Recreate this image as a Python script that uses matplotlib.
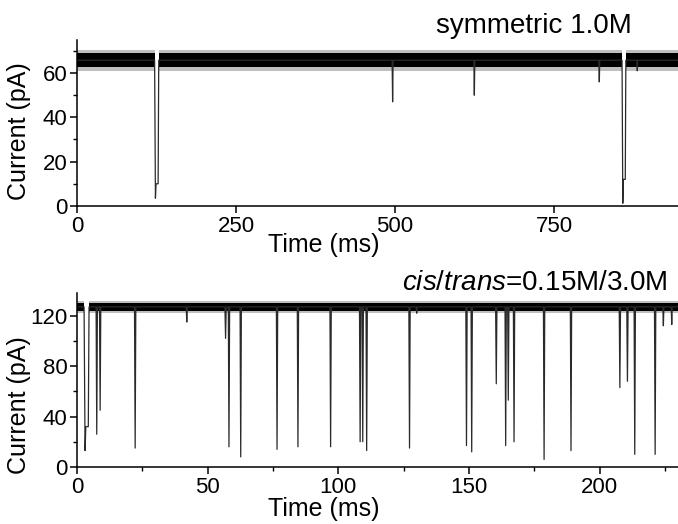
import matplotlib
matplotlib.use('Agg')
import matplotlib.pyplot as plt
import numpy as np

plt.rcParams['font.family'] = ['Liberation Sans', 'DejaVu Sans']
plt.rcParams['mathtext.fontset'] = 'custom'
plt.rcParams['mathtext.rm'] = 'Liberation Sans'
plt.rcParams['mathtext.it'] = 'Liberation Sans:italic'

# ---- top trace: symmetric 1.0M ----
top_base = 65.8
top_core = (62.6, 69.0)      # dense part of the noise band
top_fuzz = (61.0, 70.6)      # outer whiskers of the noise
# events: start (ms), end (ms), lowest current, plateau current
top_start = [122.0, 495.5, 624.0, 820.5, 857.0, 880.5]
top_end = [128.5, 497.0, 625.5, 822.0, 863.0, 881.5]
top_min = [3.5, 47.0, 50.0, 56.0, 1.2, 61.0]
top_plat = [10.0, 47.0, 50.0, 56.0, 12.0, 61.0]

# ---- bottom trace: cis/trans = 0.15M/3.0M ----
bot_base = 127.0
bot_core = (123.8, 130.2)
bot_fuzz = (121.8, 131.6)
bot_start = [2.7, 7.3, 8.6, 22.0, 41.8, 56.6, 57.9, 62.4, 76.3, 84.3,
             96.8, 108.1, 109.1, 110.6, 127.0, 129.8, 148.8, 150.8, 160.2, 163.8,
             164.8, 167.0, 178.5, 188.8, 207.5, 210.4, 213.2, 221.0, 224.2, 227.4]
bot_end = [4.6, 7.8, 9.1, 22.5, 42.2, 57.1, 58.4, 62.9, 76.8, 84.8,
           97.3, 108.6, 109.6, 111.1, 127.5, 130.2, 149.3, 151.3, 160.7, 164.3,
           165.3, 167.5, 179.0, 189.3, 208.0, 210.9, 213.7, 221.5, 224.6, 227.8]
bot_min = [13, 26, 45, 15, 115, 102, 16, 8, 14, 16,
           16, 20, 20, 13, 15, 122, 17, 12, 66, 17,
           53, 20, 6, 13, 63, 68, 10, 10, 112, 113]
bot_plat = [32, 26, 45, 15, 115, 102, 16, 8, 14, 16,
            16, 20, 20, 13, 15, 122, 17, 12, 66, 17,
            53, 20, 6, 13, 63, 68, 10, 10, 112, 113]


def build_trace(base, starts, ends, mins, plats, t_end):
    xs, ys = [0], [base]
    for s, e, m, p in zip(starts, ends, mins, plats):
        w = e - s
        if m == p:
            xs += [s, s + w / 2, e]
            ys += [base, m, base]
        else:
            xs += [s, s + w * 0.2, s + w * 0.35, e - w * 0.15, e]
            ys += [base, m, p, p, base]
    xs.append(t_end)
    ys.append(base)
    return xs, ys


def draw_panel(ax, base, core, fuzz, starts, ends, mins, plats, t_end):
    # noise band, broken only where a long blockade happens
    edges = [0]
    for s, e in zip(starts, ends):
        if e - s > 0.005 * t_end:
            edges += [s, e]
    edges.append(t_end)
    for a, b in zip(edges[0::2], edges[1::2]):
        ax.fill_between([a, b], fuzz[0], fuzz[1], color='black', alpha=0.25, lw=0)
        ax.fill_between([a, b], core[0], core[1], color='black', lw=0)
    xs, ys = build_trace(base, starts, ends, mins, plats, t_end)
    ax.plot(xs, ys, color='#2a2a2a', lw=0.9)
    ax.set_xlim(0, t_end)
    for s in ['top', 'right']:
        ax.spines[s].set_visible(False)
    for s in ['left', 'bottom']:
        ax.spines[s].set_linewidth(1.1)
    ax.tick_params(which='major', direction='out', length=5, width=1.1, labelsize=16, pad=2)
    ax.tick_params(which='minor', direction='out', length=3, width=1.0)
    ax.set_xlabel('Time (ms)', fontsize=18)
    ax.set_ylabel('Current (pA)', fontsize=18)


fig = plt.figure(figsize=(6.78, 5.24), dpi=100)

ax1 = fig.add_axes([0.1136, 0.607, 0.8864, 0.317])
draw_panel(ax1, top_base, top_core, top_fuzz, top_start, top_end, top_min, top_plat, 945)
ax1.set_ylim(0, 75)
ax1.set_xticks([0, 250, 500, 750])
ax1.set_yticks([0, 20, 40, 60])
ax1.set_yticks([10, 30, 50, 70], minor=True)
ax1.xaxis.set_label_coords(0.411, -0.16)
ax1.yaxis.set_label_coords(-0.077, 0.45)

ax2 = fig.add_axes([0.1136, 0.1088, 0.8864, 0.332])
draw_panel(ax2, bot_base, bot_core, bot_fuzz, bot_start, bot_end, bot_min, bot_plat, 230)
ax2.set_ylim(0, 138)
ax2.set_xticks([0, 50, 100, 150, 200])
ax2.set_xticks([25, 75, 125, 175, 225], minor=True)
ax2.set_yticks([0, 40, 80, 120])
ax2.set_yticks([20, 60, 100], minor=True)
ax2.xaxis.set_label_coords(0.411, -0.175)
ax2.yaxis.set_label_coords(-0.077, 0.356)

fig.text(0.932, 0.937, 'symmetric 1.0M', fontsize=20, ha='right', va='baseline')
fig.text(0.985, 0.4466, r'$\mathit{cis/trans}$=0.15M/3.0M', fontsize=20, ha='right', va='baseline')

fig.savefig('out.png', dpi=100)
